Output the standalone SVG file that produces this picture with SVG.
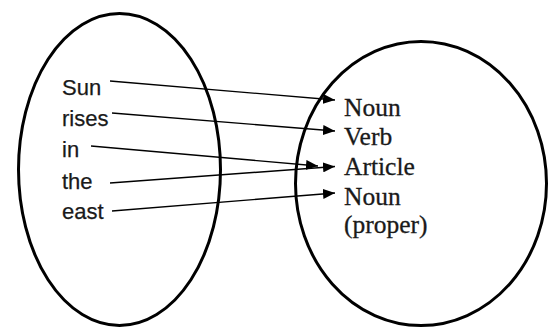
<svg xmlns="http://www.w3.org/2000/svg" width="551" height="330" viewBox="0 0 551 330">
<style>
.ell{fill:none;stroke:#000;stroke-width:3}
.w{font-family:"Liberation Sans",Arial,sans-serif;font-size:22px;fill:#1a1a1a;stroke:#1a1a1a;stroke-width:0.25}
.p{font-family:"Liberation Serif","Times New Roman",serif;font-size:25.5px;fill:#1a1a1a;stroke:#1a1a1a;stroke-width:0.3}
.c{stroke:#000;stroke-width:1.4;fill:none;marker-end:url(#ah)}
</style>
<defs>
<marker id="ah" markerUnits="userSpaceOnUse" markerWidth="12" markerHeight="10" refX="12" refY="5" orient="auto">
<path d="M0,0 L12,5 L0,10 Z" fill="#000"/>
</marker>
</defs>
<rect width="551" height="330" fill="#fff"/>
<g id="left-set">
<ellipse class="ell" cx="119.5" cy="169.5" rx="101" ry="156"/>
<text class="w" x="62" y="95">Sun</text>
<text class="w" x="62" y="126">rises</text>
<text class="w" x="62" y="157">in</text>
<text class="w" x="62" y="189">the</text>
<text class="w" x="62" y="219">east</text>
</g>
<g id="right-set">
<ellipse class="ell" cx="421" cy="183.5" rx="125.5" ry="142"/>
<text class="p" x="344" y="116">Noun</text>
<text class="p" x="344" y="145">Verb</text>
<text class="p" x="344" y="175">Article</text>
<text class="p" x="344" y="205">Noun</text>
<text class="p" x="344" y="233">(proper)</text>
</g>
<g id="connectors">
<line class="c" x1="110" y1="81" x2="335" y2="100"/>
<line class="c" x1="112" y1="113" x2="335" y2="131"/>
<line class="c" x1="91" y1="146" x2="318" y2="166"/>
<line class="c" x1="110" y1="183" x2="335" y2="166.5"/>
<line class="c" x1="112" y1="211" x2="335" y2="193"/>
</g>
</svg>
